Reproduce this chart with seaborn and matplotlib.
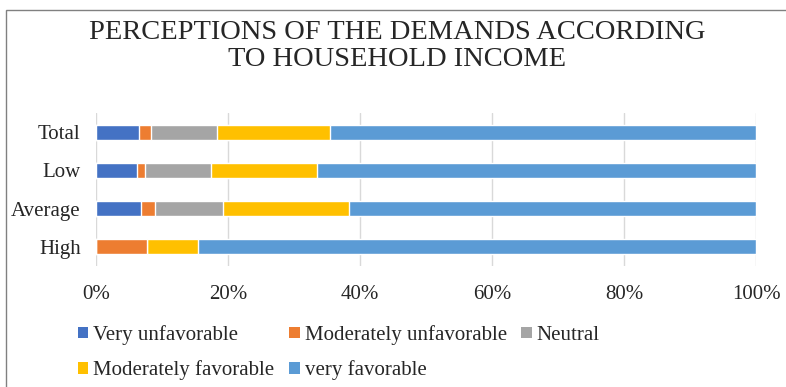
import matplotlib
matplotlib.use("Agg")
import matplotlib.pyplot as plt
from matplotlib.patches import Rectangle, Patch
from matplotlib.ticker import PercentFormatter
import numpy as np
import pandas as pd
import seaborn as sns

# Survey shares (%) per household income group
groups = ["Total", "Low", "Average", "High"]
very_unfavorable = [6.5, 6.2, 6.8, 0.0]
moderately_unfavorable = [1.9, 1.2, 2.1, 7.7]
neutral = [9.9, 10.0, 10.3, 0.0]
moderately_favorable = [17.1, 16.1, 19.1, 7.7]
very_favorable = [64.6, 66.5, 61.7, 84.6]

series_names = ["Very unfavorable", "Moderately unfavorable", "Neutral",
                "Moderately favorable", "very favorable"]
series_values = [very_unfavorable, moderately_unfavorable, neutral,
                 moderately_favorable, very_favorable]
colors = ["#4472C4", "#ED7D31", "#A5A5A5", "#FFC000", "#5B9BD5"]

sns.set_theme(style="white")
plt.rcParams["font.family"] = ["Liberation Serif", "DejaVu Serif"]

fig = plt.figure(figsize=(7.86, 3.87), dpi=100)
ax = fig.add_axes([96 / 786, 1 - 266 / 387, 660 / 786, 153 / 387])

# stacked bars: draw cumulative totals from the outermost segment inward
cum = np.cumsum(np.array(series_values), axis=0)
for i in range(len(series_names) - 1, -1, -1):
    df = pd.DataFrame({"group": groups, "value": cum[i]})
    sns.barplot(data=df, x="value", y="group", orient="h", color=colors[i],
                width=0.39, saturation=1, ax=ax, zorder=3)

ax.set_xlim(0, 100)
ax.set_xticks(np.arange(0, 101, 20))
ax.xaxis.set_major_formatter(PercentFormatter(decimals=0))
ax.set_xlabel("")
ax.set_ylabel("")
ax.grid(axis="x", color="#D9D9D9", linewidth=1, zorder=0)
ax.grid(axis="y", visible=False)
for s in ax.spines.values():
    s.set_visible(False)
ax.tick_params(axis="x", length=0, pad=14, labelsize=15)
ax.tick_params(axis="y", length=0, pad=11, labelsize=15)

fig.text(0.505, 1 - 46 / 387,
         "PERCEPTIONS OF THE DEMANDS ACCORDING\nTO HOUSEHOLD INCOME",
         ha="center", va="center", fontsize=20.5, linespacing=1.1)

handles = [Patch(facecolor=c, edgecolor="none") for c in colors]
order = [0, 3, 1, 4, 2]
fig.legend([handles[k] for k in order], [series_names[k] for k in order],
           ncol=3, loc="upper left", bbox_to_anchor=(78 / 786, 1 - 325 / 387),
           frameon=False, fontsize=15, handlelength=0.5, handleheight=0.5,
           handletextpad=0.24, columnspacing=0.7, labelspacing=0.75,
           borderaxespad=0, borderpad=0)

# chart frame: left and top edges visible, right and bottom run off the image
fig.add_artist(Rectangle((6 / 786, -0.1), 1.0, 1.1 - 10 / 387,
                         transform=fig.transFigure, fill=False,
                         edgecolor="#808080", linewidth=1))

fig.savefig("out.png", dpi=100)
